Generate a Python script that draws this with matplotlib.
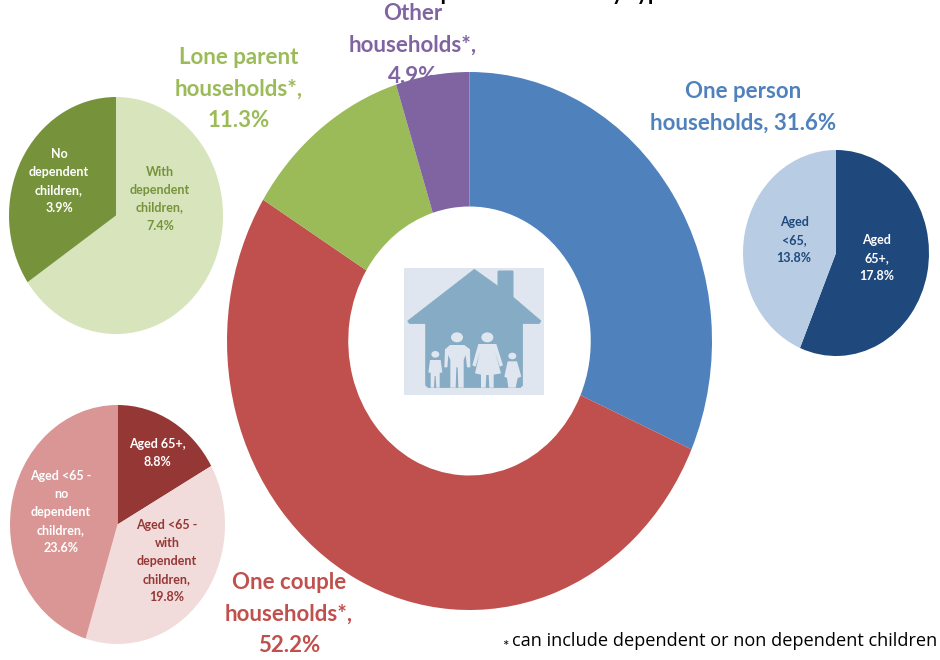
import matplotlib
matplotlib.use("Agg")
import matplotlib.pyplot as plt
from matplotlib.patches import Polygon, Rectangle, Ellipse, FancyBboxPatch

plt.rcParams['font.family'] = ['Lato', 'DejaVu Sans']

W, H = 940, 660

# ---- data ----
main_values = [31.6, 52.2, 11.3, 4.9]
main_colors = ['#4F81BD', '#C0504D', '#9BBB59', '#8064A2']
main_labels = ['One person\nhouseholds, 31.6%', 'One couple\nhouseholds*,\n52.2%',
               'Lone parent\nhouseholds*,\n11.3%', 'Other\nhouseholds*,\n4.9%']

lone_values = [7.4, 3.9]
lone_colors = ['#D8E4BC', '#76933C']
lone_labels = ['With\ndependent\nchildren,\n7.4%', 'No\ndependent\nchildren,\n3.9%']

single_values = [17.8, 13.8]
single_colors = ['#1F497D', '#B8CCE4']
single_labels = ['Aged\n65+,\n17.8%', 'Aged\n<65,\n13.8%']

couple_values = [8.8, 19.8, 23.6]
couple_colors = ['#953735', '#F2DCDB', '#D99694']
couple_labels = ['Aged 65+,\n8.8%', 'Aged <65 -\nwith\ndependent\nchildren,\n19.8%',
                 'Aged <65 -\nno\ndependent\nchildren,\n23.6%']

title = 'Number of households per cent of total by type'
footnote = 'can include dependent or non dependent children'

fig = plt.figure(figsize=(W / 100, H / 100), dpi=100, facecolor='white')


def canvas(z):
    ax = fig.add_axes([0, 0, 1, 1], zorder=z)
    ax.set_xlim(0, W)
    ax.set_ylim(H, 0)
    ax.axis('off')
    ax.patch.set_alpha(0)
    return ax


def pie_axes(x0, x1, y0, y1, values, colors, hole=None):
    ax = fig.add_axes([x0 / W, 1 - y1 / H, (x1 - x0) / W, (y1 - y0) / H], zorder=1)
    wp = dict(linewidth=0)
    if hole:
        wp['width'] = 1 - hole
    ax.pie(values, colors=colors, startangle=90, counterclock=False, radius=1,
           wedgeprops=wp)
    ax.set_aspect('auto')
    ax.set_xlim(-1, 1)
    ax.set_ylim(-1, 1)
    ax.patch.set_alpha(0)
    return ax


back = canvas(0)
top = canvas(2)

pie_axes(227, 712, 72, 610, main_values, main_colors, hole=0.5)
pie_axes(9, 223, 97, 334, lone_values, lone_colors)
pie_axes(743, 929, 150, 356, single_values, single_colors)
pie_axes(10, 225, 405, 644, couple_values, couple_colors)

# title, cut off by the top of the picture
back.text(444, 0, title, ha='center', va='baseline', fontsize=15.5,
          fontweight='bold', color='black', clip_on=False)

# main labels
BIG = dict(ha='center', va='center', fontsize=16, fontweight='bold', linespacing=1.59)
top.text(743, 107.5, main_labels[0], color=main_colors[0], **BIG)
top.text(289, 614, main_labels[1], color=main_colors[1], **BIG)
top.text(239, 89, main_labels[2], color=main_colors[2], **BIG)
back.text(413, 45, main_labels[3], color=main_colors[3], **BIG)

# small labels
SM = dict(ha='center', va='center', fontsize=9, fontweight='bold', linespacing=1.6)
top.text(160, 198.5, lone_labels[0], color='#76933C', **SM)
top.text(59, 181, lone_labels[1], color='white', **SM)
top.text(877, 258, single_labels[0], color='white', **SM)
top.text(794, 240, single_labels[1], color='#1F497D', **SM)
top.text(157, 453, couple_labels[0], color='white', **SM)
top.text(167, 561, couple_labels[1], color='#953735', **SM)
top.text(61, 512, couple_labels[2], color='white', **SM)

# footnote
top.text(505, 647, '*', ha='center', va='center', fontsize=11, color='black')
top.text(512, 641, footnote, ha='left', va='center', fontsize=13.1, color='black',
         family=['Open Sans', 'DejaVu Sans'])


# ---- house icon (decoration), drawn in the crop's 3x coordinates ----
def P(x, y):
    return (395 + x / 3, 260 + y / 3)


HOUSE = '#86ABC4'
BG = '#DFE6EF'
top.add_patch(Rectangle(P(27, 25), 421 / 3, 380 / 3, fc=BG, ec='none'))
top.add_patch(FancyBboxPatch(P(312, 36), 39 / 3, 80 / 3, boxstyle='round,pad=1.5',
                             fc=HOUSE, ec='none'))
top.add_patch(Polygon([P(238, 28), P(308, 78), P(355, 112), P(438, 183), P(432, 191),
                       P(383, 191), P(383, 376), P(375, 383), P(100, 383), P(92, 376),
                       P(92, 191), P(44, 191), P(38, 183)],
                      closed=True, fc=HOUSE, ec=HOUSE, lw=0.5, joinstyle='round'))


def ell(x, y, w, h):
    top.add_patch(Ellipse(P(x, y), w / 3, h / 3, fc=BG, ec='none'))


def poly(*pts):
    top.add_patch(Polygon([P(*p) for p in pts], closed=True, fc=BG, ec='none'))


# father
ell(186, 232, 36, 30)
poly((150, 268), (165, 255), (208, 255), (225, 268), (226, 322), (216, 322), (212, 285),
     (206, 300), (206, 383), (190, 383), (188, 322), (184, 322), (182, 383), (166, 383),
     (166, 300), (160, 285), (157, 322), (148, 322))
# mother
ell(277, 232, 36, 30)
poly((250, 252), (304, 252), (324, 316), (314, 320), (300, 275), (318, 340), (296, 344),
     (296, 383), (283, 383), (281, 345), (274, 345), (272, 383), (258, 383), (258, 344),
     (240, 340), (255, 275), (242, 320), (232, 316))
# boy
ell(121, 283, 24, 20)
poly((105, 300), (137, 300), (142, 338), (134, 338), (134, 383), (124, 383), (122, 348),
     (119, 348), (117, 383), (107, 383), (107, 338), (100, 338))
# girl
ell(352, 288, 24, 20)
poly((338, 304), (366, 304), (379, 350), (368, 354), (362, 383), (340, 383), (336, 354),
     (328, 350))

fig.savefig('out.png', dpi=100)
